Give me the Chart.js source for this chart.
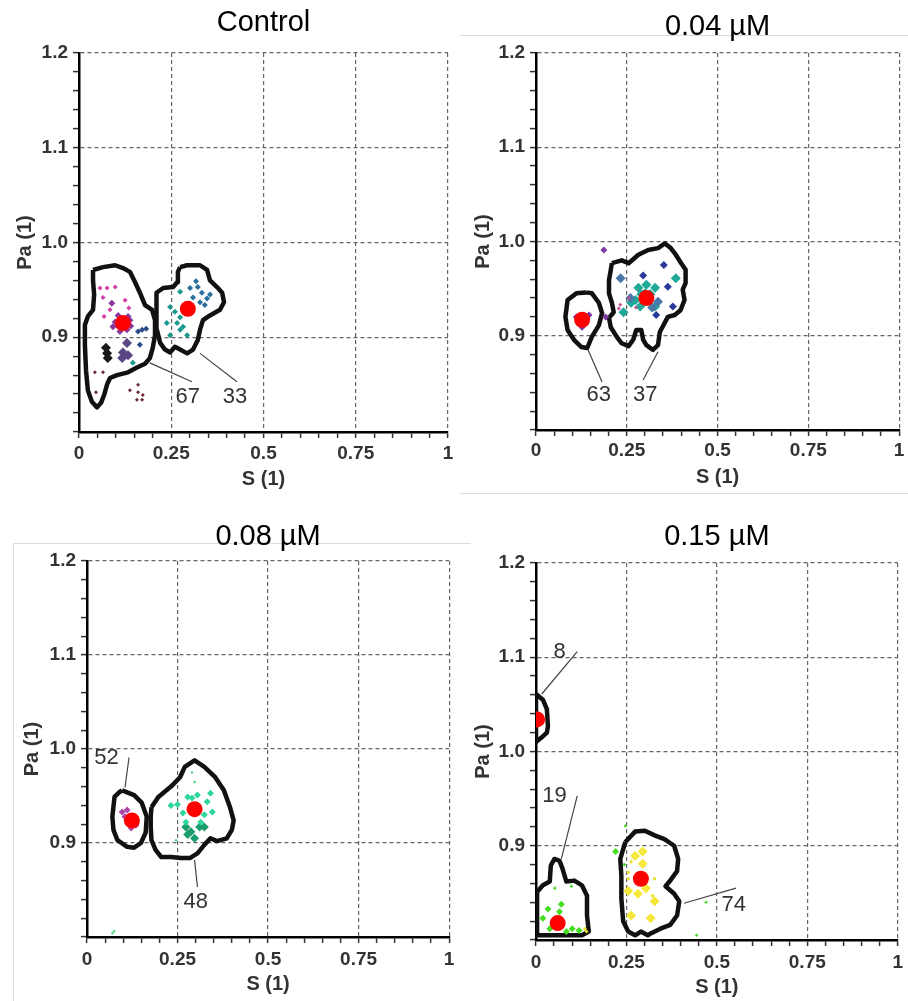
<!DOCTYPE html>
<html>
<head>
<meta charset="utf-8">
<script src="https://cdn.jsdelivr.net/npm/chart.js@4/dist/chart.umd.min.js"></script>
<style>
html,body{margin:0;padding:0;background:#fff;}
body{width:908px;height:1001px;position:relative;overflow:hidden;}
canvas{position:absolute;}
.fr{position:absolute;background:#dcdcdc;}
</style>
</head>
<body>
<div class="fr" style="left:460px;top:35px;width:448px;height:1px"></div>
<div class="fr" style="left:460px;top:493px;width:448px;height:1px"></div>
<div class="fr" style="left:13px;top:543px;width:447px;height:1px"></div>
<div class="fr" style="left:13px;top:543px;width:1px;height:458px"></div>
<div class="fr" style="left:460px;top:543px;width:11px;height:1px"></div>
<canvas id="p1" width="460" height="500" style="left:0;top:0"></canvas>
<canvas id="p2" width="448" height="500" style="left:460px;top:0"></canvas>
<canvas id="p3" width="460" height="501" style="left:0;top:500px"></canvas>
<canvas id="p4" width="448" height="501" style="left:460px;top:500px"></canvas>
<script>
// ---------- axis / tick definitions ----------
const xTickValues = [0, 0.25, 0.5, 0.75, 1];
const xTickLabels = ['0', '0.25', '0.5', '0.75', '1'];
const yTickValues = [0.9, 1.0, 1.1, 1.2];
const yTickLabels = ['0.9', '1.0', '1.1', '1.2'];
const xMinorStep = 0.05;
const yMinorStep = 0.02;
const panelTitles = ['Control', '0.04 µM', '0.08 µM', '0.15 µM'];
const xAxisTitle = 'S (1)';
const yAxisTitle = 'Pa (1)';

// ---------- Control ----------
const ctrlCentroids = [[0.119, 0.915], [0.295, 0.930]];
const ctrlContourA = [[0.038,0.971],[0.065,0.974],[0.098,0.976],[0.119,0.973],[0.138,0.969],[0.152,0.958],[0.165,0.947],[0.179,0.934],[0.198,0.929],[0.206,0.918],[0.206,0.902],[0.200,0.889],[0.192,0.878],[0.179,0.872],[0.157,0.868],[0.133,0.863],[0.103,0.860],[0.084,0.857],[0.076,0.850],[0.068,0.839],[0.060,0.831],[0.049,0.826],[0.035,0.832],[0.024,0.844],[0.019,0.865],[0.016,0.892],[0.016,0.913],[0.024,0.922],[0.038,0.929],[0.041,0.945],[0.038,0.960]];
const ctrlContourB = [[0.274,0.974],[0.293,0.976],[0.328,0.976],[0.347,0.971],[0.355,0.960],[0.374,0.953],[0.388,0.947],[0.393,0.937],[0.382,0.929],[0.355,0.923],[0.336,0.918],[0.328,0.908],[0.322,0.897],[0.309,0.887],[0.293,0.883],[0.274,0.887],[0.260,0.890],[0.247,0.884],[0.233,0.887],[0.220,0.894],[0.211,0.908],[0.209,0.926],[0.211,0.947],[0.228,0.952],[0.255,0.953],[0.266,0.958],[0.268,0.969]];
const ctrlLeaderA = [[0.192, 0.873], [0.306, 0.853]];
const ctrlLeaderB = [[0.328, 0.883], [0.428, 0.853]];
const ctrlLabels = ['67', '33'];
const ctrlLabelAt = [[0.295, 0.837], [0.423, 0.837]];
const ctrlPink = [[0.098,0.953],[0.076,0.952],[0.125,0.939],[0.065,0.942],[0.057,0.952],[0.068,0.922],[0.084,0.929],[0.135,0.931]];
const ctrlPurple = [[0.089,0.936],[0.098,0.916],[0.138,0.918],[0.111,0.906],[0.130,0.908],[0.092,0.911],[0.106,0.923],[0.133,0.922],[0.105,0.912],[0.140,0.912]];
const ctrlNavy = [[0.171,0.908],[0.160,0.906],[0.182,0.909],[0.165,0.892]];
const ctrlSlate = [[0.130,0.894],[0.119,0.884],[0.117,0.878],[0.133,0.881]];
const ctrlBlack = [[0.076,0.883],[0.073,0.889],[0.078,0.878]];
const ctrlBrown = [[0.065,0.863],[0.043,0.863],[0.046,0.842],[0.160,0.850],[0.138,0.844],[0.160,0.842],[0.173,0.839],[0.157,0.834],[0.171,0.834]];
const ctrlTeal = [[0.274,0.948],[0.247,0.932],[0.260,0.927],[0.274,0.921],[0.238,0.915],[0.266,0.915],[0.274,0.908],[0.247,0.902],[0.293,0.902],[0.282,0.911],[0.146,0.873]];
const ctrlSteel = [[0.301,0.952],[0.322,0.953],[0.333,0.947],[0.347,0.941],[0.355,0.945],[0.309,0.942],[0.328,0.937],[0.341,0.934],[0.317,0.959]];

// ---------- 0.04 µM ----------
const p04Centroids = [[0.127, 0.917], [0.304, 0.940]];
const p04ContourA = [[0.138,0.946],[0.154,0.945],[0.173,0.935],[0.182,0.924],[0.173,0.911],[0.154,0.899],[0.141,0.887],[0.125,0.888],[0.106,0.895],[0.087,0.906],[0.081,0.920],[0.087,0.938],[0.111,0.945]];
const p04ContourB = [[0.209,0.977],[0.236,0.980],[0.255,0.977],[0.282,0.986],[0.309,0.991],[0.336,0.993],[0.355,0.998],[0.371,0.993],[0.385,0.986],[0.398,0.978],[0.412,0.970],[0.412,0.956],[0.404,0.949],[0.409,0.938],[0.398,0.927],[0.382,0.922],[0.363,0.920],[0.355,0.914],[0.341,0.904],[0.336,0.890],[0.322,0.885],[0.304,0.890],[0.295,0.896],[0.290,0.906],[0.276,0.906],[0.268,0.896],[0.255,0.889],[0.236,0.892],[0.222,0.899],[0.206,0.909],[0.201,0.919],[0.214,0.925],[0.209,0.935],[0.201,0.945],[0.201,0.959],[0.206,0.970]];
const p04LeaderA = [[0.141, 0.887], [0.182, 0.851]];
const p04LeaderB = [[0.336, 0.883], [0.295, 0.853]];
const p04Labels = ['63', '37'];
const p04LabelAt = [[0.173, 0.837], [0.301, 0.837]];
const p04Purple = [[0.187,0.991],[0.192,0.920],[0.111,0.920],[0.146,0.922],[0.127,0.909]];
const p04Navy = [[0.295,0.964],[0.331,0.922],[0.377,0.931],[0.352,0.975],[0.363,0.952]];
const p04Steel = [[0.233,0.961],[0.336,0.936],[0.260,0.940],[0.320,0.930]];
const p04Teal = [[0.385,0.961],[0.282,0.951],[0.304,0.954],[0.328,0.951],[0.274,0.938],[0.287,0.931],[0.328,0.931],[0.241,0.925],[0.300,0.945],[0.315,0.944],[0.290,0.944],[0.262,0.935]];
const p04Pink = [[0.255,0.940],[0.228,0.929],[0.232,0.933],[0.275,0.930]];

// ---------- 0.08 µM ----------
const p08Centroids = [[0.124, 0.924], [0.297, 0.936]];
const p08ContourA = [[0.097,0.956],[0.130,0.951],[0.151,0.943],[0.165,0.928],[0.162,0.911],[0.149,0.900],[0.130,0.895],[0.111,0.896],[0.084,0.903],[0.073,0.914],[0.070,0.928],[0.076,0.949],[0.089,0.954]];
const p08ContourB = [[0.178,0.938],[0.197,0.949],[0.232,0.960],[0.257,0.970],[0.270,0.981],[0.297,0.988],[0.324,0.981],[0.354,0.970],[0.378,0.956],[0.395,0.938],[0.405,0.924],[0.400,0.914],[0.386,0.905],[0.359,0.902],[0.341,0.905],[0.324,0.898],[0.305,0.889],[0.284,0.884],[0.259,0.884],[0.232,0.885],[0.205,0.885],[0.189,0.893],[0.178,0.903],[0.176,0.917],[0.176,0.928]];
const p08LeaderA = [[0.105, 0.959], [0.116, 0.991]];
const p08LeaderB = [[0.297, 0.882], [0.305, 0.853]];
const p08Labels = ['52', '48'];
const p08LabelAt = [[0.054, 0.991], [0.300, 0.837]];
const p08Mint = [[0.232,0.940],[0.278,0.949],[0.305,0.951],[0.332,0.944],[0.341,0.953],[0.346,0.933],[0.324,0.930],[0.265,0.932],[0.273,0.922],[0.314,0.922],[0.290,0.948],[0.250,0.941]];
const p08MintSmall = [[0.297,0.965],[0.246,0.903],[0.070,0.804],[0.075,0.806],[0.290,0.975]];
const p08Green = [[0.273,0.917],[0.278,0.909],[0.311,0.917],[0.324,0.917],[0.297,0.905],[0.287,0.912]];
const p08Pink = [[0.097,0.933],[0.111,0.935],[0.135,0.919],[0.122,0.916],[0.105,0.928]];

// ---------- 0.15 µM ----------
const p15Centroids = [[0.003, 1.034], [0.060, 0.818], [0.290, 0.865]];
const p15ContourA = [[0,1.061],[0.019,1.055],[0.030,1.045],[0.033,1.027],[0.030,1.020],[0.016,1.015],[0,1.010]];
const p15ContourB = [[0.003,0.851],[0.019,0.858],[0.038,0.862],[0.041,0.879],[0.051,0.886],[0.065,0.884],[0.073,0.876],[0.084,0.862],[0.106,0.863],[0.127,0.858],[0.141,0.847],[0.141,0.826],[0.146,0.809],[0.127,0.805],[0.003,0.805]];
const p15ContourC = [[0.247,0.904],[0.274,0.915],[0.301,0.916],[0.328,0.911],[0.355,0.907],[0.382,0.900],[0.393,0.886],[0.390,0.873],[0.369,0.862],[0.358,0.857],[0.382,0.849],[0.396,0.841],[0.390,0.826],[0.371,0.816],[0.344,0.812],[0.317,0.807],[0.309,0.805],[0.290,0.809],[0.274,0.805],[0.255,0.809],[0.241,0.820],[0.236,0.844],[0.236,0.868],[0.233,0.886]];
const p15LeaderA = [[0.016, 1.061], [0.114, 1.106]];
const p15LeaderB = [[0.070, 0.886], [0.114, 0.953]];
const p15LeaderC = [[0.409, 0.839], [0.553, 0.855]];
const p15Labels = ['8', '19', '74'];
const p15LabelAt = [[0.065, 1.106], [0.051, 0.953], [0.547, 0.837]];
const p15Yellow = [[0.274,0.889],[0.295,0.894],[0.295,0.881],[0.255,0.852],[0.282,0.849],[0.304,0.855],[0.328,0.841],[0.317,0.823],[0.263,0.826]];
const p15YellowSmall = [[0.263,0.883],[0.255,0.865],[0.322,0.847],[0.328,0.865],[0.255,0.872],[0.135,0.812],[0.140,0.809]];
const p15Green = [[0.220,0.894],[0.033,0.833],[0.070,0.838],[0.065,0.830],[0.019,0.823],[0.100,0.812],[0.119,0.810],[0.038,0.812],[0.084,0.809]];
const p15GreenSmall = [[0.247,0.921],[0.444,0.805],[0.470,0.840],[0.098,0.857],[0.052,0.855],[0.244,0.880]];

// ---------- helpers ----------
const FONT = '"Liberation Sans", Arial, Helvetica, sans-serif';
const pts = a => a.map(p => ({x: p[0], y: p[1]}));
const closed = a => pts(a.concat([a[0]]));
const near = (v, list) => list.findIndex(t => Math.abs(t - v) < 1e-6);

function labelPlugin(texts, at) {
  return {
    id: 'leaderLabels',
    afterDatasetsDraw(chart) {
      const {ctx, scales} = chart;
      ctx.save();
      ctx.font = '22px ' + FONT;
      ctx.fillStyle = '#333';
      ctx.textAlign = 'center';
      ctx.textBaseline = 'middle';
      texts.forEach((t, i) => {
        ctx.fillText(t, scales.x.getPixelForValue(at[i][0]), scales.y.getPixelForValue(at[i][1]));
      });
      ctx.restore();
    }
  };
}

function makeChart(id, title, L, groups, centroids, contours, leaders, texts, textAt) {
  const datasets = [];
  datasets.push({data: pts(centroids), pointStyle: 'circle', pointRadius: 8, backgroundColor: '#ff0000', borderWidth: 0, order: 0});
  groups.forEach(g => datasets.push({data: pts(g.d), pointStyle: 'rectRot', pointRadius: g.r, backgroundColor: g.c, borderWidth: 0, order: 1}));
  contours.forEach(c => datasets.push({data: closed(c), showLine: true, pointRadius: 0, borderColor: '#111', borderWidth: 4.5, borderJoinStyle: 'round', tension: 0, fill: false, order: 2}));
  leaders.forEach(l => datasets.push({data: pts(l), showLine: true, pointRadius: 0, borderColor: '#444', borderWidth: 1.2, tension: 0, fill: false, order: 3}));
  const tickFont = {family: FONT, size: 19, weight: 'bold'};
  const axTitleFont = {family: FONT, size: 20, weight: 'bold'};
  new Chart(document.getElementById(id), {
    type: 'scatter',
    data: {datasets},
    options: {
      responsive: false, animation: false, events: [],
      layout: {padding: {left: 0, top: 0, right: L.padRight, bottom: L.padBottom}},
      plugins: {
        legend: {display: false}, tooltip: {enabled: false},
        title: {display: true, text: title, fullSize: false, color: '#000',
          font: {family: FONT, size: 29, weight: 'normal'},
          padding: {top: L.titleTop, bottom: L.titleBottom}}
      },
      scales: {
        x: {
          type: 'linear', position: 'bottom', min: 0, max: 1,
          afterFit: s => { s.height = 60; },
          ticks: {stepSize: xMinorStep, autoSkip: false, maxRotation: 0, minRotation: 0, maxTicksLimit: 1000,
            padding: L.xTickPad, color: '#333', font: tickFont,
            callback: v => { const i = near(v, xTickValues); return i >= 0 ? xTickLabels[i] : ''; }},
          grid: {color: c => (c.tick && c.tick.value > 0 && near(c.tick.value, xTickValues) >= 0) ? '#666' : 'rgba(0,0,0,0)',
            lineWidth: 1.2, drawTicks: true, tickLength: 6, tickWidth: 1.5, tickColor: '#333'},
          border: {display: true, color: '#000', width: 2.5, dash: [4, 3]},
          title: {display: true, text: xAxisTitle, color: '#333', font: axTitleFont, padding: {top: 0, bottom: L.xTitleBottom}}
        },
        y: {
          type: 'linear', position: 'left', min: 0.8, max: 1.2,
          afterFit: s => { s.width = L.yWidth; },
          ticks: {stepSize: yMinorStep, autoSkip: false, maxTicksLimit: 1000,
            padding: 5, color: '#333', font: tickFont,
            callback: v => { const i = near(v, yTickValues); return i >= 0 ? yTickLabels[i] : ''; }},
          grid: {color: c => (c.tick && near(c.tick.value, yTickValues) >= 0) ? '#666' : 'rgba(0,0,0,0)',
            lineWidth: 1.2, drawTicks: true, tickLength: 6, tickWidth: 1.5, tickColor: '#333'},
          border: {display: true, color: '#000', width: 2.5, dash: [4, 3]},
          title: {display: true, text: yAxisTitle, color: '#333', font: axTitleFont, padding: {top: L.yTitleTop, bottom: 0}}
        }
      }
    },
    plugins: [labelPlugin(texts, textAt)]
  });
}

makeChart('p1', panelTitles[0],
  {padRight: 12, padBottom: 8, titleTop: 5.6, titleBottom: 12.6, xTickPad: 4.6, xTitleBottom: 1, yWidth: 79, yTitleTop: 13},
  [
    {d: ctrlBrown, c: '#6b2a35', r: 2},
    {d: ctrlPink, c: '#d040a8', r: 2.5},
    {d: ctrlPurple, c: '#8a3a9c', r: 3.5},
    {d: ctrlNavy, c: '#2a4a8a', r: 3},
    {d: ctrlSlate, c: '#5a4585', r: 5},
    {d: ctrlBlack, c: '#1a1a1a', r: 5},
    {d: ctrlTeal, c: '#1a9a8c', r: 3},
    {d: ctrlSteel, c: '#2a6ea0', r: 3}
  ],
  ctrlCentroids, [ctrlContourA, ctrlContourB], [ctrlLeaderA, ctrlLeaderB], ctrlLabels, ctrlLabelAt);

makeChart('p2', panelTitles[1],
  {padRight: 3, padBottom: 10, titleTop: 9.6, titleBottom: 8.6, xTickPad: 3.6, xTitleBottom: 1, yWidth: 76, yTitleTop: 11},
  [
    {d: p04Pink, c: '#c05090', r: 2},
    {d: p04Purple, c: '#7a3aa0', r: 3.5},
    {d: p04Steel, c: '#4a78a8', r: 5},
    {d: p04Teal, c: '#20a898', r: 5},
    {d: p04Navy, c: '#2a3a9a', r: 4}
  ],
  p04Centroids, [p04ContourA, p04ContourB], [p04LeaderA, p04LeaderB], p04Labels, p04LabelAt);

makeChart('p3', panelTitles[2],
  {padRight: 3, padBottom: 4, titleTop: 19.6, titleBottom: 6.6, xTickPad: 5.6, xTitleBottom: 1, yWidth: 87, yTitleTop: 20},
  [
    {d: p08Pink, c: '#b04aa8', r: 3.5},
    {d: p08MintSmall, c: '#3ad27a', r: 1.5},
    {d: p08Mint, c: '#2fd69a', r: 3.5},
    {d: p08Green, c: '#1a9c6c', r: 4.5}
  ],
  p08Centroids, [p08ContourA, p08ContourB], [p08LeaderA, p08LeaderB], p08Labels, p08LabelAt);

makeChart('p4', panelTitles[3],
  {padRight: 3, padBottom: 1, titleTop: 19.6, titleBottom: 8.6, xTickPad: 5, xTitleBottom: 0.5, yWidth: 76, yTitleTop: 11},
  [
    {d: p15GreenSmall, c: '#44d822', r: 1.8},
    {d: p15YellowSmall, c: '#e8e020', r: 2},
    {d: p15Green, c: '#44dd22', r: 3.5},
    {d: p15Yellow, c: '#f5e83a', r: 5}
  ],
  p15Centroids, [p15ContourA, p15ContourB, p15ContourC], [p15LeaderA, p15LeaderB, p15LeaderC], p15Labels, p15LabelAt);
</script>
</body>
</html>
